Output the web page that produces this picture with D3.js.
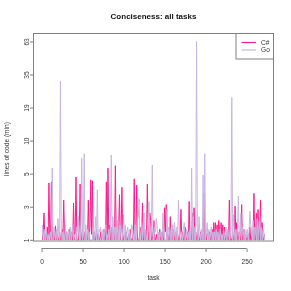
<!DOCTYPE html>
<html>
<head>
<meta charset="utf-8">
<script src="https://cdn.jsdelivr.net/npm/d3@7"></script>
<style>
  body { margin: 0; background: #fff; }
  svg { display: block; font-family: 'Liberation Sans', Arial, sans-serif; will-change: transform; }
</style>
</head>
<body>
<svg id="chart" width="291" height="291"></svg>
<script>
// lines of code (min), one value per task, tasks 1..272
const csharp = [
  1, 1.3, 2.2, 1, 1.2, 1, 1.5, 1, 4.4, 1.2,
  1, 4.5, 1, 1.3, 1, 1, 1.55, 1, 1.2, 1,
  1, 1.3, 1, 1, 1.4, 1, 3, 1.2, 1, 1.3,
  1, 1.2, 1, 1.4, 1, 1.3, 1, 1, 2.8, 1,
  1.3, 5, 1, 1, 1, 1.5, 4.3, 1, 1, 1.4,
  1, 1, 1.3, 1, 1.2, 1, 3, 1, 1.5, 4.7,
  1.2, 4.6, 1, 1.3, 1, 1, 1.4, 1, 1.2, 1,
  1, 1.3, 1, 1.2, 1, 1.4, 1, 1, 4.5, 1,
  6, 1, 1.6, 1, 1, 1.5, 1, 1.3, 1, 6.3,
  1, 1.3, 1, 1.5, 3.4, 1, 1.4, 4, 1, 1,
  1.2, 1, 1.3, 1, 1, 1.2, 1, 1.4, 1, 1,
  1, 1.3, 4.8, 1, 1.2, 4.2, 1, 1, 1, 1.5,
  1.3, 1, 2.8, 1, 1, 1.4, 1, 1.2, 4.3, 1,
  1, 2.2, 1.8, 1, 1, 1.3, 1.8, 1, 1, 1.2,
  1, 1.2, 1, 1.4, 1, 1, 1.3, 1, 1, 2.5,
  1.3, 2.7, 1, 1.2, 1, 1, 2, 1, 1.3, 1,
  1.4, 1, 1, 1.3, 1, 1.2, 1, 1, 1.3, 2.4,
  1, 1.3, 1, 1, 1.5, 1, 1, 1.3, 1, 2.9,
  1, 1.2, 1, 2.2, 1, 2.5, 1, 1.3, 1, 1,
  1.4, 1, 1, 1.3, 1, 1.2, 1, 3.5, 1, 1.3,
  1, 1.2, 1.25, 1, 1.3, 1, 1, 1.4, 1, 1.7,
  1, 1.7, 1, 1.6, 1, 1.8, 1.4, 1, 1.7, 1,
  1.6, 1, 1.5, 1, 1, 1.3, 1, 1, 3, 1,
  1, 1, 1.3, 1, 1, 2.6, 1, 1.7, 1, 1,
  1.3, 1, 1, 2.7, 1, 1, 1.4, 1, 1.2, 1,
  1, 1.2, 1, 1.5, 1, 1, 1.3, 1, 3.5, 1,
  1, 2.2, 1, 2.4, 1, 1, 3, 1, 1.7, 1,
  1, 1.2
]

const golang = [
  1.6, 1, 1, 1.4, 1, 1.3, 1, 1.2, 1, 1,
  1.3, 1, 6, 1, 1.5, 1.3, 1, 1.4, 1, 1.9,
  1.2, 1, 31, 1.5, 1, 1.3, 1, 1, 1.6, 1,
  1.3, 1, 1.4, 1, 1.5, 1, 1.3, 1.6, 1, 1.2,
  1, 1, 1.5, 1.3, 2, 1, 1, 1.6, 7.3, 1,
  1.4, 8, 1, 1.6, 1, 1.4, 1, 1.3, 1, 1,
  1, 1, 1.5, 1, 1.3, 2, 1, 3.8, 1, 1.4,
  1.3, 1.5, 1.2, 1, 1.4, 1, 1.3, 1.6, 1, 1.2,
  1, 1.4, 1, 1.7, 7.8, 1, 2, 1, 1.5, 1,
  1.5, 1, 1.8, 1, 1, 1.6, 1, 1, 1.3, 2.1,
  1, 1.6, 1, 1.3, 1.5, 1, 1.4, 1, 1.2, 1.6,
  1.4, 1, 1, 1.6, 1, 1, 1.8, 2, 3.1, 1,
  1, 1.7, 1, 1.5, 2.2, 1, 1.4, 1, 1, 1.9,
  2.9, 1, 1, 1.5, 6.4, 1, 1, 1.5, 1.3, 1.9,
  1.5, 1, 1.3, 1, 1.4, 1.2, 1, 2.2, 1.3, 1,
  1, 1, 2.4, 1, 1.5, 1.3, 1, 1.4, 1, 1.6,
  1, 1.7, 1.3, 1, 1.5, 1, 3, 1.4, 1, 1,
  1.3, 1, 1.4, 1.7, 1, 1.2, 1.4, 1, 1.3, 1,
  1.4, 1, 6, 1, 2, 1, 1.5, 1, 63, 1.4,
  1, 2, 1.3, 1, 1.4, 1, 5.2, 1, 8, 1,
  1.3, 1.7, 1, 1.4, 1, 1.3, 1.5, 1, 1.3, 1,
  1.3, 1, 1.4, 1, 1.3, 1, 1, 1.4, 1, 1.2,
  1, 1.4, 1, 1.3, 1.5, 1, 1.4, 1.2, 1, 1.3,
  1.2, 23, 1, 2.1, 1.3, 1, 1.4, 1, 1.5, 3.3,
  1, 1.4, 2.2, 1, 1.5, 1.3, 1, 1.4, 1, 1.3,
  1.4, 1, 1.3, 2.3, 1.6, 1.4, 1, 1.8, 1, 1.5,
  1.3, 1, 1.9, 1, 1.6, 2, 1, 1.5, 1, 1.4,
  1.3, 1
]

const seriesNames = ['C#', 'Go']
const seriesColors = ['#ff1a8c', '#c7b6e0']
const xTicks = [0, 50, 100, 150, 200, 250]
const yTickLabels = ['1', '3', '5', '10', '19', '35', '63']

// plot region (R style box)
const box = { left: 33.5, right: 273.5, top: 33.5, bottom: 241 }

const svg = d3.select('#chart')

// y is plotted as log(loc + 1)
const tr = v => Math.log(v + 1)
const yLo = tr(1)
const yHi = tr(63)
const ySpan = yHi - yLo

const nTasks = csharp.length
const xPad = 0.04 * (nTasks - 1)
const x = d3.scaleLinear()
  .domain([1 - xPad, nTasks + xPad])
  .range([box.left, box.right])

const y = d3.scaleLinear()
  .domain([yLo - 0.006 * ySpan, yHi + 0.04 * ySpan])
  .range([box.bottom, box.top])

// ticks are evenly spaced on the transformed scale
const yTickPos = yTickLabels.map((d, i) => yLo + i * ySpan / (yTickLabels.length - 1))

/**
 * Draws one series as a line through every task.
 *
 * @param {number[]} values The values of the series
 * @param {string} color The line colour
 */
function drawSeries (values, color) {
  const line = d3.line()
    .x((d, i) => x(i + 1))
    .y(d => y(tr(d)))

  svg.append('path')
    .datum(values)
    .attr('fill', 'none')
    .attr('stroke', color)
    .attr('stroke-width', 1)
    .attr('d', line)
}

drawSeries(csharp, seriesColors[0])
drawSeries(golang, seriesColors[1])

// box
svg.append('rect')
  .attr('x', box.left)
  .attr('y', box.top)
  .attr('width', box.right - box.left)
  .attr('height', box.bottom - box.top)
  .attr('fill', 'none')
  .attr('stroke', '#808080')
  .attr('stroke-width', 1)

// x axis, a bit below the box
const xAxis = svg.append('g')
  .attr('transform', 'translate(0,248.5)')
  .call(d3.axisBottom(x).tickValues(xTicks).tickSize(3.5).tickSizeOuter(0).tickPadding(7))

xAxis.select('.domain')
  .attr('d', 'M' + x(xTicks[0]) + ',0H' + x(xTicks[xTicks.length - 1]))

// y axis with labels parallel to the axis
const yAxis = svg.append('g')
  .attr('transform', 'translate(' + box.left + ',0)')
  .call(d3.axisLeft(y).tickValues(yTickPos).tickFormat((d, i) => yTickLabels[i]).tickSize(3.5).tickSizeOuter(0))

yAxis.select('.domain')
  .attr('d', 'M0,' + y(yTickPos[0]) + 'V' + y(yTickPos[yTickPos.length - 1]))

yAxis.selectAll('.tick text')
  .attr('x', 0)
  .attr('y', -4.6)
  .attr('dy', 0)
  .attr('text-anchor', 'middle')
  .attr('transform', 'rotate(-90)')

svg.selectAll('.domain, .tick line').attr('stroke', '#808080')
svg.selectAll('.tick text')
  .attr('fill', '#333')
  .attr('font-size', 6.6)
  .attr('font-family', "'Liberation Sans', Arial, sans-serif")

// title and axis labels
svg.append('text')
  .attr('x', (box.left + box.right) / 2)
  .attr('y', 19.3)
  .attr('text-anchor', 'middle')
  .attr('font-size', 8)
  .attr('font-weight', 'bold')
  .attr('fill', '#111')
  .text('Conciseness: all tasks')

svg.append('text')
  .attr('x', (box.left + box.right) / 2)
  .attr('y', 279.5)
  .attr('text-anchor', 'middle')
  .attr('font-size', 6.6)
  .attr('fill', '#333')
  .text('task')

svg.append('text')
  .attr('transform', 'translate(9.3,149) rotate(-90)')
  .attr('text-anchor', 'middle')
  .attr('font-size', 6.6)
  .attr('fill', '#333')
  .text('lines of code (min)')

// legend
const legend = svg.append('g')
legend.append('rect')
  .attr('x', 236)
  .attr('y', box.top)
  .attr('width', box.right - 236)
  .attr('height', 25.5)
  .attr('fill', '#fff')
  .attr('stroke', '#808080')

seriesNames.forEach((name, i) => {
  const ly = 42.5 + i * 7.5
  legend.append('line')
    .attr('x1', 241.5).attr('x2', 256)
    .attr('y1', ly).attr('y2', ly)
    .attr('stroke', seriesColors[i])
    .attr('stroke-width', 1.2)
  legend.append('text')
    .attr('x', 261)
    .attr('y', ly + 2.4)
    .attr('font-size', 6.6)
    .attr('fill', '#333')
    .text(name)
})
</script>
</body>
</html>
